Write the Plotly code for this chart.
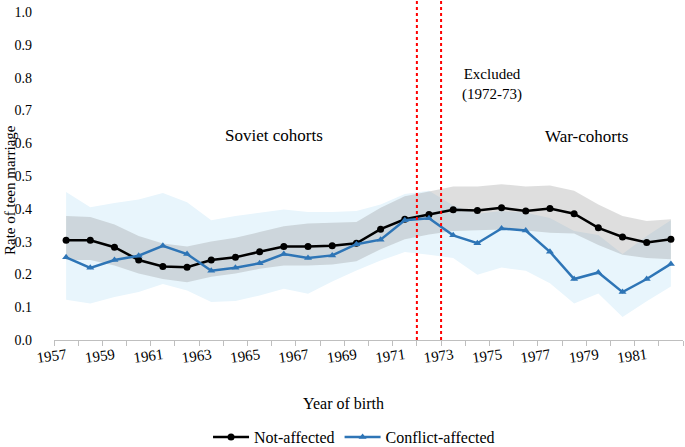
import plotly.graph_objects as go

years = list(range(1957, 1983))
not_affected = [0.304, 0.304, 0.283, 0.244, 0.224, 0.222, 0.244, 0.252, 0.269, 0.285, 0.285, 0.287, 0.295,
                0.338, 0.368, 0.383, 0.397, 0.395, 0.403, 0.393, 0.401, 0.385, 0.342, 0.314, 0.297, 0.307]
not_affected_hi = [0.378, 0.375, 0.352, 0.317, 0.294, 0.285, 0.300, 0.312, 0.329, 0.347, 0.355, 0.358, 0.360,
                   0.403, 0.438, 0.453, 0.468, 0.468, 0.475, 0.468, 0.471, 0.455, 0.413, 0.378, 0.363, 0.368]
not_affected_lo = [0.244, 0.244, 0.227, 0.203, 0.186, 0.176, 0.193, 0.203, 0.217, 0.227, 0.227, 0.230, 0.240,
                   0.277, 0.307, 0.322, 0.332, 0.334, 0.337, 0.334, 0.327, 0.325, 0.290, 0.260, 0.250, 0.246]
conflict = [0.252, 0.220, 0.244, 0.257, 0.287, 0.262, 0.211, 0.220, 0.234, 0.262, 0.250, 0.258, 0.292,
            0.306, 0.365, 0.371, 0.319, 0.295, 0.340, 0.334, 0.269, 0.186, 0.206, 0.146, 0.186, 0.232]
conflict_hi = [0.451, 0.405, 0.418, 0.428, 0.448, 0.420, 0.365, 0.378, 0.388, 0.398, 0.390, 0.390, 0.393,
               0.413, 0.445, 0.455, 0.410, 0.385, 0.393, 0.388, 0.372, 0.332, 0.320, 0.262, 0.317, 0.365]
conflict_lo = [0.123, 0.111, 0.131, 0.146, 0.171, 0.151, 0.116, 0.119, 0.136, 0.156, 0.141, 0.178, 0.212,
               0.242, 0.268, 0.260, 0.250, 0.199, 0.221, 0.211, 0.173, 0.111, 0.142, 0.070, 0.118, 0.163]
label_years = list(range(1957, 1983, 2))
y_ticks = [round(i * 0.1, 1) for i in range(11)]
excluded_bounds = [1971.5, 1972.5]

FONT = '"Liberation Serif", "Times New Roman", serif'

fig = go.Figure()
# confidence bands
fig.add_trace(go.Scatter(x=years + years[::-1], y=conflict_hi + conflict_lo[::-1], fill="toself",
                         fillcolor="rgb(232,245,252)", line=dict(width=0), mode="lines",
                         showlegend=False, hoverinfo="skip"))
fig.add_trace(go.Scatter(x=years + years[::-1], y=not_affected_hi + not_affected_lo[::-1], fill="toself",
                         fillcolor="rgba(128,128,128,0.26)", line=dict(width=0), mode="lines",
                         showlegend=False, hoverinfo="skip"))
fig.add_trace(go.Scatter(x=years, y=not_affected, name="Not-affected", mode="lines+markers",
                         line=dict(color="black", width=2.5), marker=dict(symbol="circle", size=7, color="black")))
fig.add_trace(go.Scatter(x=years, y=conflict, name="Conflict-affected", mode="lines+markers",
                         line=dict(color="#2e75b6", width=2.5),
                         marker=dict(symbol="triangle-up", size=7, color="#2e75b6")))

for xb in excluded_bounds:
    fig.add_shape(type="line", xref="x", yref="paper", x0=xb, x1=xb, y0=0, y1=1.037,
                  line=dict(color="red", width=2, dash="dot"))

fig.update_layout(
    template="none",
    width=685, height=447,
    margin=dict(l=54, r=2, t=12, b=107, autoexpand=False),
    plot_bgcolor="white", paper_bgcolor="white",
    font=dict(family=FONT, size=14, color="black"),
    showlegend=True,
    legend=dict(orientation="h", x=0.477, xanchor="center", y=-0.296, yanchor="middle",
                font=dict(size=16, family=FONT), itemwidth=36, tracegroupgap=0, bgcolor="rgba(0,0,0,0)"),
    xaxis=dict(range=[1956.5, 1982.5], tickmode="array", tickvals=label_years,
               ticktext=[str(y) for y in label_years], ticks="", tickangle=-8, automargin=False,
               showline=True, linecolor="#bfbfbf", linewidth=1, showgrid=False, zeroline=False,
               ticklabelshift=0,
               tickfont=dict(size=15, family=FONT),
               minor=dict(tickmode="array", tickvals=[y - 0.5 for y in years] + [1982.5],
                          ticks="outside", ticklen=5, tickcolor="#bfbfbf", showgrid=False)),
    yaxis=dict(range=[0, 1], tickmode="array", tickvals=y_ticks, ticktext=[f"{v:.1f}" for v in y_ticks],
               showline=False, showgrid=False, zeroline=False, ticks="", ticklabelstandoff=21, automargin=False,
               tickfont=dict(size=14, family=FONT)),
    annotations=[
        dict(text="Rate of teen marriage", xref="paper", yref="paper", x=(10 - 54) / 629, y=(340 - 190) / 328,
             textangle=-90, showarrow=False, font=dict(size=15, family=FONT), xanchor="center", yanchor="middle"),
        dict(text="Year of birth", xref="paper", yref="paper", x=(343 - 54) / 629, y=(340 - 403) / 328,
             showarrow=False, font=dict(size=16, family=FONT), xanchor="center", yanchor="middle"),
        dict(text="Soviet cohorts", xref="paper", yref="paper", x=(274 - 54) / 629, y=(340 - 135) / 328,
             showarrow=False, font=dict(size=17, family=FONT), xanchor="center", yanchor="middle"),
        dict(text="War-cohorts", xref="paper", yref="paper", x=(586 - 54) / 629, y=(340 - 136) / 328,
             showarrow=False, font=dict(size=17, family=FONT), xanchor="center", yanchor="middle"),
        dict(text="Excluded<br>(1972-73)", xref="paper", yref="paper", x=(492 - 54) / 629, y=(340 - 85) / 328,
             showarrow=False, font=dict(size=15, family=FONT), xanchor="center", yanchor="middle"),
    ],
)

fig.write_html("out.html", config={"displayModeBar": False},
               post_script="document.body.style.margin='0';document.body.style.padding='0';")
